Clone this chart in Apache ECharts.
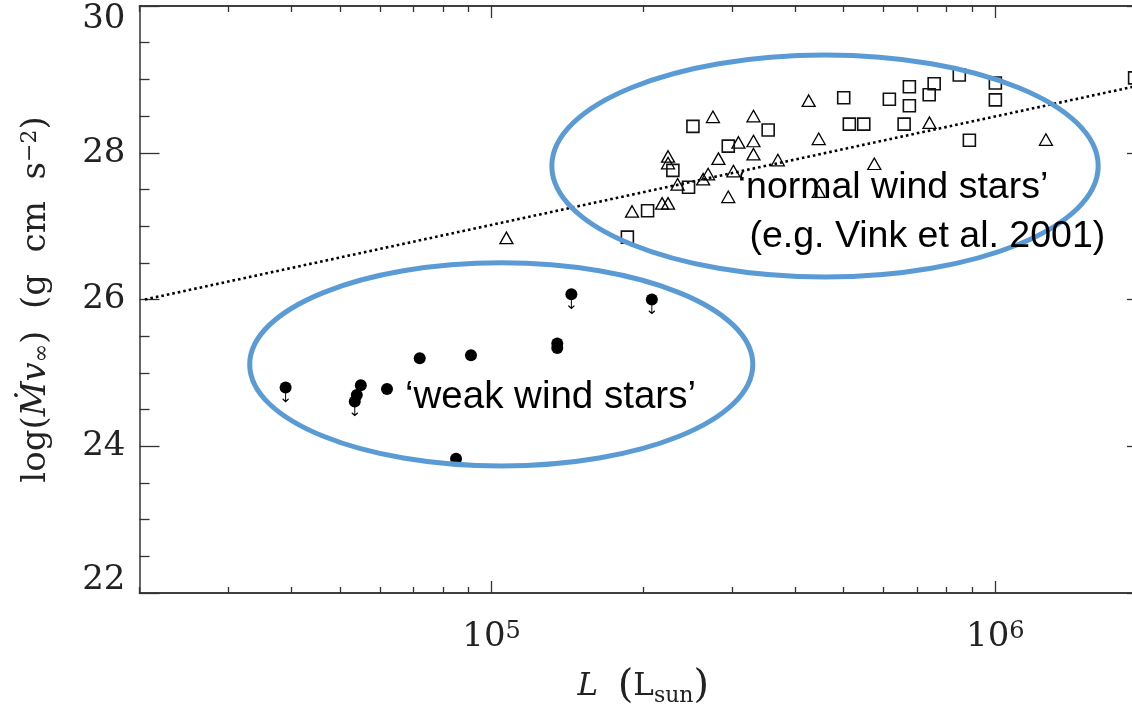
<!DOCTYPE html>
<html><head><meta charset="utf-8">
<script src="https://cdn.jsdelivr.net/npm/echarts@6/dist/echarts.min.js"></script>
<style>html,body{margin:0;padding:0;background:#fff}#c{width:1132px;height:708px}</style>
</head><body><div id="c"></div>
<script>
// ---- data ----
// weak wind stars (filled circles); limit = 1 marks an upper limit (arrow)
const weakL     = [3.9e4, 5.5e4, 5.4e4, 5.35e4, 6.2e4, 7.2e4, 9.1e4, 8.5e4, 1.35e5, 1.35e5, 1.44e5, 2.08e5];
const weakY     = [24.80, 24.83, 24.70, 24.61, 24.78, 25.20, 25.24, 23.83, 25.40, 25.34, 26.07, 26.00];
const weakLimit = [1,     0,     0,     1,     0,     0,     0,     0,     0,     0,     1,     1];
// open triangles
const triL = [1.07e5, 1.90e5, 2.18e5, 2.24e5, 2.34e5, 2.24e5, 2.24e5, 2.63e5, 2.69e5, 2.82e5, 2.95e5, 3.02e5,
              2.75e5, 3.09e5, 3.31e5, 3.31e5, 3.31e5, 3.70e5, 4.26e5, 4.46e5, 5.75e5, 7.40e5, 1.26e6, 4.46e5];
const triY = [26.84, 27.20, 27.31, 27.31, 27.57, 27.95, 27.86, 27.64, 27.71, 27.92, 27.40, 27.75,
              28.49, 28.14, 28.50, 28.16, 27.98, 27.90, 28.71, 28.19, 27.85, 28.41, 28.18, 27.47];
// open squares
const sqL = [2.04e5, 1.86e5, 2.29e5, 2.46e5, 2.51e5, 2.95e5, 3.54e5, 5.00e5, 5.13e5, 5.48e5, 6.16e5,
             6.59e5, 6.75e5, 6.75e5, 7.39e5, 7.56e5, 8.48e5, 1.00e6, 1.00e6, 8.88e5, 1.89e6];
const sqY = [27.21, 26.85, 27.76, 27.53, 28.36, 28.09, 28.31, 28.75, 28.39, 28.39, 28.73,
             28.39, 28.90, 28.64, 28.79, 28.94, 29.06, 28.95, 28.72, 28.17, 29.02];
// dotted relation (end points)
const fitL = [2.05e4, 2.0e6];
const fitY = [26.00, 28.94];
// axes
const xRange = [2e4, 2e6];
const yRange = [22, 30];
const xMajorTicks = [1e5, 1e6];
const xMinorTicks = [2e4,3e4,4e4,5e4,6e4,7e4,8e4,9e4,2e5,3e5,4e5,5e5,6e5,7e5,8e5,9e5,2e6];
// grouping ellipses, in data space: [L left, L right, y top, y bottom]
const ellNormal = [1.317e5, 1.60e6, 29.332, 26.307];
const ellWeak   = [3.31e4, 3.30e5, 26.50, 23.73];
// annotation texts with their data-space anchors (left edge, vertical centre)
const noteText = ['\u2018normal wind stars\u2019', '(e.g. Vink et al. 2001)', '\u2018weak wind stars\u2019'];
const noteL    = [3.08e5, 3.25e5, 6.73e4];
const noteY    = [27.52, 26.86, 24.67];

// ---- chart ----
const chart = echarts.init(document.getElementById('c'), null, {renderer: 'canvas'});
const AX = '#333';
const serif = 'DejaVu Serif';

function zip(a, b) { return a.map((v, i) => [v, b[i]]); }
const weakAll = zip(weakL, weakY);
const weakLim = weakAll.filter((d, i) => weakLimit[i] === 1);

function xAxisDef(pos, ticks, len, labels) {
  return {
    type: 'log', logBase: 10, min: xRange[0], max: xRange[1], position: pos,
    axisLine: {show: true, onZero: false, lineStyle: {color: AX, width: 1.5}},
    axisTick: {show: true, inside: true, length: len, customValues: ticks, lineStyle: {color: AX, width: 1.3}},
    minorTick: {show: false}, splitLine: {show: false},
    axisLabel: labels ? {
      show: true, customValues: ticks, margin: 27,
      formatter: v => '{b|10}{s|' + Math.round(Math.log10(v)) + '}',
      rich: {
        b: {fontFamily: serif, fontSize: 34, color: '#222'},
        s: {fontFamily: serif, fontSize: 24, color: '#222', verticalAlign: 'top', lineHeight: 12}
      }
    } : {show: false}
  };
}
function yAxisDef(pos, labels) {
  return {
    type: 'value', min: yRange[0], max: yRange[1], interval: 2, position: pos,
    axisLine: {show: true, onZero: false, lineStyle: {color: AX, width: 1.5}},
    axisTick: {show: true, inside: true, length: 20, lineStyle: {color: AX, width: 1.3}},
    minorTick: {show: true, splitNumber: 4, length: 10, lineStyle: {color: AX, width: 1.3}},
    splitLine: {show: false},
    axisLabel: labels ? {
      show: true, margin: 14,
      formatter: v => v === yRange[1] ? '{t|' + v + '}' : (v === yRange[0] ? '{bt|' + v + '}' : '{n|' + v + '}'),
      rich: {
        n: {fontFamily: serif, fontSize: 34, color: '#222'},
        t: {fontFamily: serif, fontSize: 34, color: '#222', padding: [27, 0, 0, 0]},
        bt: {fontFamily: serif, fontSize: 34, color: '#222', padding: [0, 0, 25, 0]}
      }
    } : {show: false}
  };
}

const xBottom = xAxisDef('bottom', xMajorTicks, 12, true);
xBottom.name = '{i|L}{n|  }{p|(}{n|L}{sub|sun}{p|)}';
xBottom.nameLocation = 'middle';
xBottom.nameGap = 74;
xBottom.nameTextStyle = {
  fontFamily: serif, fontSize: 30, color: '#222',
  rich: {
    i: {fontFamily: serif, fontStyle: 'italic', fontSize: 31, color: '#222'},
    n: {fontFamily: serif, fontSize: 31, color: '#222'},
    p: {fontFamily: serif, fontSize: 40, color: '#222'},
    sub: {fontFamily: serif, fontSize: 22, color: '#222', verticalAlign: 'bottom', lineHeight: 22}
  }
};
const yLeft = yAxisDef('left', true);
yLeft.name = '{n|log(}{i|\u1E40v}{sub|\u221E}{n|)  (g  cm  s}{sup|\u22122}{n|)}';
yLeft.nameLocation = 'middle';
yLeft.nameRotate = 90;
yLeft.nameGap = 86;
yLeft.nameTextStyle = {
  fontFamily: serif, fontSize: 34, color: '#222',
  rich: {
    n: {fontFamily: serif, fontSize: 34, color: '#222'},
    i: {fontFamily: serif, fontStyle: 'italic', fontSize: 34, color: '#222'},
    sub: {fontFamily: serif, fontSize: 22, color: '#222', verticalAlign: 'bottom', lineHeight: 20},
    sup: {fontFamily: serif, fontSize: 22, color: '#222', verticalAlign: 'top', lineHeight: 12}
  }
};

const option = {
  backgroundColor: '#fff',
  animation: false,
  grid: {left: 139.5, top: 6, right: -15, bottom: 115, containLabel: false, outerBoundsMode: 'none'},
  xAxis: [xBottom, xAxisDef('bottom', xMinorTicks, 6, false), xAxisDef('top', xMajorTicks, 12, false), xAxisDef('top', xMinorTicks, 6, false)],
  yAxis: [yLeft, yAxisDef('right', false)],
  series: [
    {type: 'line', name: 'relation', data: zip(fitL, fitY), symbol: 'none', silent: true, z: 3,
     lineStyle: {color: '#000', width: 2.6, type: [2.6, 3], opacity: 1}},
    {type: 'scatter', name: 'triangles', data: zip(triL, triY), symbol: 'triangle', symbolSize: [13, 11.5], z: 4,
     itemStyle: {color: 'rgba(0,0,0,0)', borderColor: '#000', borderWidth: 1.3, opacity: 1}},
    {type: 'scatter', name: 'squares', data: zip(sqL, sqY), symbol: 'rect', symbolSize: 12, z: 4,
     itemStyle: {color: 'rgba(0,0,0,0)', borderColor: '#111', borderWidth: 1.6, opacity: 1}},
    {type: 'scatter', name: 'weak', data: weakAll, symbol: 'circle', symbolSize: 12, z: 5,
     itemStyle: {color: '#000', opacity: 1}},
    {type: 'scatter', name: 'upper limits', data: weakLim, symbol: 'path://M5,0L5,12M1.5,8.5L5,12L8.5,8.5',
     symbolSize: [6, 9], symbolOffset: [0, 9.5], z: 5,
     itemStyle: {color: 'rgba(0,0,0,0)', borderColor: '#000', borderWidth: 1.2, opacity: 1}}
  ]
};
chart.setOption(option);

// grouping ellipses and annotations, placed through the chart's own coordinate conversion
function toPx(L, y) { return chart.convertToPixel({xAxisIndex: 0, yAxisIndex: 0}, [L, y]); }
function ellipse(e) {
  const a = toPx(e[0], e[2]), b = toPx(e[1], e[3]);
  return {type: 'ellipse', z: 100, silent: true,
    shape: {cx: (a[0] + b[0]) / 2, cy: (a[1] + b[1]) / 2, rx: Math.abs(b[0] - a[0]) / 2, ry: Math.abs(b[1] - a[1]) / 2},
    style: {fill: 'none', stroke: '#5B9BD5', lineWidth: 5}};
}
const noteSize = [37.5, 37.5, 38.5];
const graphics = [ellipse(ellNormal), ellipse(ellWeak)];
noteText.forEach((t, i) => {
  const p = toPx(noteL[i], noteY[i]);
  graphics.push({type: 'text', z: 110, silent: true, x: p[0], y: p[1],
    style: {text: t, fill: '#000', font: noteSize[i] + 'px "Liberation Sans", Arial, sans-serif', align: 'left', verticalAlign: 'middle'}});
});
chart.setOption({graphic: graphics});
</script></body></html>
